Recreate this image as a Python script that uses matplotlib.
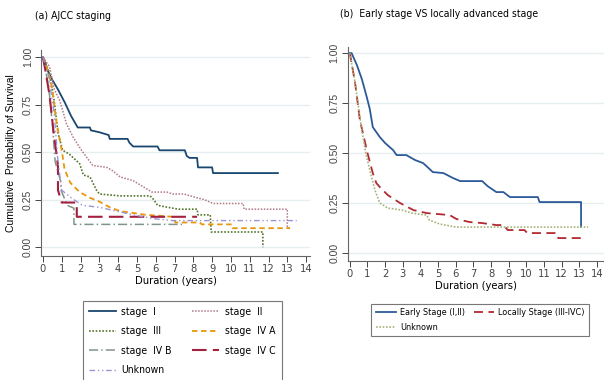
import matplotlib.pyplot as plt
from matplotlib.font_manager import FontProperties

plt.rcParams['font.family'] = ['Liberation Sans', 'DejaVu Sans']


def narrow(size):
    return FontProperties(family='DejaVu Sans', stretch='condensed', size=size)


# ---- (a) AJCC staging: curve vertices (years, survival) ----
t_stage1 = [0, 0.25, 0.5, 0.8, 1.17, 1.5, 1.85, 2.5, 2.55, 3.0, 3.5, 3.55, 4.5, 4.6, 4.8, 6.1, 6.2, 7.55, 7.65, 7.8, 8.2, 8.25, 9.0, 9.05, 12.5]
s_stage1 = [1.0, 0.93, 0.88, 0.83, 0.76, 0.69, 0.63, 0.63, 0.615, 0.605, 0.59, 0.57, 0.57, 0.55, 0.53, 0.53, 0.51, 0.51, 0.48, 0.47, 0.47, 0.42, 0.42, 0.39, 0.39]

t_stage2 = [0, 0.35, 0.6, 0.9, 1.25, 1.6, 2.05, 2.65, 3.4, 3.75, 4.1, 4.8, 5.3, 5.8, 6.6, 6.9, 7.5, 8.2, 8.6, 9.05, 10.65, 10.7, 13.0, 13.0, 13.1]
s_stage2 = [1.0, 0.95, 0.83, 0.77, 0.65, 0.58, 0.51, 0.43, 0.42, 0.40, 0.37, 0.35, 0.32, 0.29, 0.29, 0.28, 0.28, 0.26, 0.25, 0.23, 0.23, 0.20, 0.20, 0.10, 0.10]

t_stage3 = [0, 0.3, 0.6, 0.8, 1.05, 1.4, 1.95, 2.15, 2.5, 2.85, 3.0, 4.1, 5.7, 5.9, 6.1, 7.2, 8.2, 8.25, 8.9, 8.95, 11.7, 11.7]
s_stage3 = [1.0, 0.93, 0.77, 0.60, 0.51, 0.49, 0.44, 0.38, 0.37, 0.30, 0.28, 0.27, 0.27, 0.25, 0.22, 0.20, 0.20, 0.17, 0.17, 0.08, 0.08, 0.0]

t_stage4a = [0, 0.2, 0.45, 0.7, 1.0, 1.15, 1.45, 1.95, 2.5, 3.0, 3.55, 4.1, 4.8, 5.5, 6.9, 7.05, 8.35, 8.45, 10.05, 10.1, 13.15]
s_stage4a = [1.0, 0.95, 0.86, 0.67, 0.51, 0.41, 0.34, 0.29, 0.26, 0.24, 0.21, 0.19, 0.18, 0.17, 0.16, 0.13, 0.13, 0.12, 0.12, 0.10, 0.10]

t_stage4b = [0, 0.2, 0.35, 0.5, 0.65, 0.96, 0.96, 1.3, 1.65, 1.65, 7.4]
s_stage4b = [1.0, 0.90, 0.80, 0.65, 0.45, 0.34, 0.30, 0.22, 0.205, 0.12, 0.12]

t_stage4c = [0, 0.15, 0.35, 0.55, 0.8, 0.8, 1.0, 1.8, 1.8, 8.2]
s_stage4c = [1.0, 0.92, 0.80, 0.62, 0.43, 0.30, 0.235, 0.235, 0.16, 0.16]

t_unk_a = [0, 0.3, 0.6, 0.8, 1.0, 1.5, 2.1, 3.0, 3.9, 4.8, 5.9, 6.9, 13.5]
s_unk_a = [1.0, 0.90, 0.70, 0.45, 0.30, 0.26, 0.22, 0.21, 0.19, 0.17, 0.15, 0.14, 0.14]

# ---- (b) Early vs locally advanced ----
t_early = [0, 0.1, 0.4, 0.68, 0.96, 1.13, 1.3, 1.7, 2.0, 2.45, 2.65, 3.2, 3.7, 4.15, 4.4, 4.7, 5.3, 5.85, 6.25, 7.5, 7.8, 8.3, 8.7, 9.07, 10.65, 10.75, 13.1, 13.1]
s_early = [1.0, 1.0, 0.94, 0.87, 0.78, 0.72, 0.63, 0.58, 0.55, 0.515, 0.49, 0.49, 0.465, 0.45, 0.43, 0.405, 0.40, 0.375, 0.36, 0.36, 0.335, 0.305, 0.305, 0.28, 0.28, 0.255, 0.255, 0.13]

t_local = [0, 0.3, 0.57, 1.0, 1.3, 1.5, 1.7, 2.15, 2.85, 3.6, 4.35, 5.65, 6.05, 6.8, 7.5, 8.3, 8.7, 8.95, 9.9, 10.05, 11.7, 11.8, 13.1]
s_local = [1.0, 0.85, 0.665, 0.50, 0.40, 0.35, 0.33, 0.29, 0.25, 0.215, 0.20, 0.19, 0.17, 0.155, 0.15, 0.14, 0.14, 0.115, 0.115, 0.10, 0.10, 0.075, 0.075]

t_unk_b = [0, 0.3, 0.6, 0.9, 1.13, 1.42, 1.7, 2.15, 2.95, 3.5, 4.35, 4.5, 5.1, 6.0, 13.5]
s_unk_b = [1.0, 0.85, 0.66, 0.50, 0.415, 0.315, 0.25, 0.225, 0.215, 0.20, 0.19, 0.165, 0.145, 0.13, 0.13]

xticks = list(range(0, 15))
yticks = [0.0, 0.25, 0.5, 0.75, 1.0]

fig = plt.figure(figsize=(6.04, 3.8), dpi=100)
axa = fig.add_axes([0.068, 0.326, 0.445, 0.542])
axb = fig.add_axes([0.576, 0.313, 0.424, 0.563])


def style_axes(ax, xlim, ylim):
    ax.set_xlim(*xlim)
    ax.set_ylim(*ylim)
    ax.set_xticks(xticks)
    ax.set_yticks(yticks)
    ax.set_yticklabels(['%.2f' % v for v in yticks], rotation=90, va='center', fontsize=7.5)
    ax.set_xticklabels([str(v) for v in xticks], fontproperties=narrow(8))
    for sp in ['top', 'right']:
        ax.spines[sp].set_visible(False)
    for sp in ['left', 'bottom']:
        ax.spines[sp].set_color('#666666')
        ax.spines[sp].set_linewidth(0.8)
    ax.tick_params(colors='#444444', length=4, width=0.7, pad=2)
    ax.grid(axis='y', color='#e6eef0', linewidth=1.0)
    ax.set_axisbelow(True)
    ax.set_xlabel('Duration (years)', fontproperties=narrow(8), labelpad=1)


# panel a
la = []
la += axa.plot(t_stage1, s_stage1, color='#1a476f', lw=1.3, label='stage  I')
la += axa.plot(t_stage2, s_stage2, color='#b07a85', lw=1.1, ls=(0, (1, 1)), label='stage  II')
la += axa.plot(t_stage3, s_stage3, color='#55752f', lw=1.2, ls=(0, (1, 1)), label='stage  III')
la += axa.plot(t_stage4a, s_stage4a, color='#e8960c', lw=1.3, ls=(0, (3, 2)), label='stage  IV A')
la += axa.plot(t_stage4b, s_stage4b, color='#7f958c', lw=1.1, ls=(0, (6, 2, 1, 2)), label='stage  IV B')
la += axa.plot(t_stage4c, s_stage4c, color='#a3203e', lw=1.5, ls=(0, (7, 3)), label='stage  IV C')
la += axa.plot(t_unk_a, s_unk_a, color='#9a94d6', lw=1.0, ls=(0, (4, 2, 1, 2, 1, 2)), label='Unknown')
style_axes(axa, (-0.1, 14.2), (-0.047, 1.037))
axa.set_ylabel('Cumulative  Probability of Survival', fontsize=7.5, labelpad=5)

# panel b
lb = []
lb += axb.plot(t_early, s_early, color='#2c5a98', lw=1.3, label='Early Stage (I,II)')
lb += axb.plot(t_local, s_local, color='#b22a30', lw=1.3, ls=(0, (5, 3)), label='Locally Stage (III-IVC)')
lb += axb.plot(t_unk_b, s_unk_b, color='#a3b57a', lw=1.2, ls=(0, (1, 1)), label='Unknown')
style_axes(axb, (-0.11, 14.4), (-0.04, 1.03))

fig.text(0.058, 0.958, '(a) AJCC staging', fontproperties=narrow(7.5), va='center')
fig.text(0.563, 0.962, '(b)  Early stage VS locally advanced stage', fontproperties=narrow(7.5), va='center')

order_a = [0, 2, 4, 6, 1, 3, 5]
lega = fig.legend([la[i] for i in order_a], [la[i].get_label() for i in order_a],
                  ncol=2, loc='upper left', bbox_to_anchor=(0.128, 0.222),
                  prop=narrow(7.5), frameon=True, fancybox=False,
                  edgecolor='#555555', handlelength=2.6, handletextpad=0.5,
                  columnspacing=2.0, labelspacing=0.9, borderpad=0.6)
lega.get_frame().set_linewidth(0.8)

order_b = [0, 2, 1]
legb = fig.legend([lb[i] for i in order_b], [lb[i].get_label() for i in order_b],
                  ncol=2, loc='upper left', bbox_to_anchor=(0.607, 0.212),
                  prop=narrow(6.5), frameon=True, fancybox=False,
                  edgecolor='#555555', handlelength=2.2, handletextpad=0.5,
                  columnspacing=1.0, labelspacing=0.6, borderpad=0.5)
legb.get_frame().set_linewidth(0.8)

fig.savefig('out.png', dpi=100, facecolor='white')
